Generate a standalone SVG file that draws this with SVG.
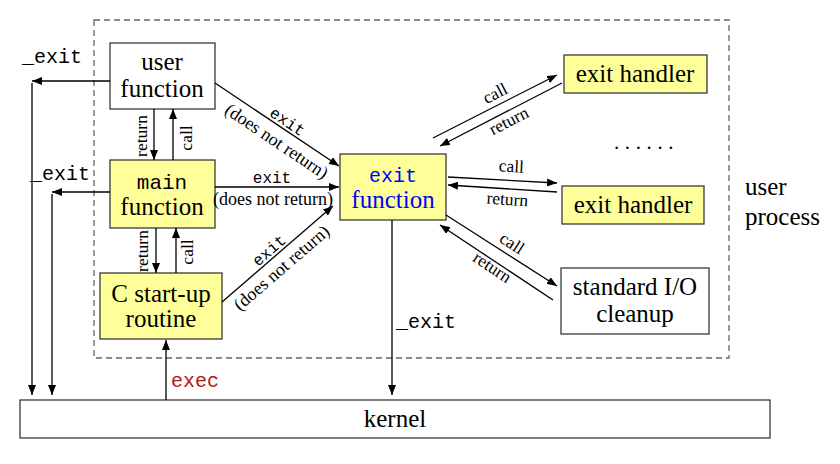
<svg xmlns="http://www.w3.org/2000/svg" width="840" height="464" viewBox="0 0 840 464">
<defs>
<marker id="ah" viewBox="0 0 10 8" refX="10" refY="4" markerWidth="10" markerHeight="8" markerUnits="userSpaceOnUse" orient="auto"><path d="M0,0 L10,4 L0,8 z" fill="#000"/></marker>
</defs>
<style>
.box{stroke:#3a3a3a;stroke-width:1.3}
.y{fill:#FFFF99}
.w{fill:#fff}
.big{font-family:"Liberation Serif","Times New Roman",serif;font-size:25px;fill:#000}
.mono{font-family:"Liberation Mono","Courier New",monospace;fill:#000}
.sm{font-family:"Liberation Serif","Times New Roman",serif;font-size:17.5px;fill:#000}
.dnr{font-size:18px}
.c{text-anchor:middle}
.ln{stroke:#000;stroke-width:1.3;fill:none;marker-end:url(#ah)}
</style>
<rect width="840" height="464" fill="#fff"/>
<rect id="user-process-frame" x="94" y="20" width="635" height="338" fill="none" stroke="#666" stroke-width="1.3" stroke-dasharray="6,4"/>
<text class="big" x="745" y="195">user</text>
<text class="big" x="745" y="225">process</text>

<g id="kernel"><rect class="box w" x="20" y="400" width="750" height="38"/><text class="big c" x="395" y="427">kernel</text></g>
<g id="user-function"><rect class="box w" x="110" y="43" width="105" height="66"/><text class="big c" x="162" y="70">user</text><text class="big c" x="162" y="97">function</text></g>
<g id="main-function"><rect class="box y" x="110" y="160" width="105" height="68"/><text class="mono c" font-size="21" x="162" y="189">main</text><text class="big c" x="162" y="215">function</text></g>
<g id="c-startup"><rect class="box y" x="100" y="273" width="122" height="66"/><text class="big c" x="161" y="302">C start-up</text><text class="big c" x="161" y="327">routine</text></g>
<g id="exit-function"><rect class="box y" x="340" y="154" width="106" height="66"/><text class="mono c" font-size="20" x="393" y="182" style="fill:#0000FF">exit</text><text class="big c" x="393" y="208" style="fill:#0000FF">function</text></g>
<g id="exit-handler-1"><rect class="box y" x="564" y="55" width="143" height="38"/><text class="big c" x="635" y="82">exit handler</text></g>
<g id="exit-handler-2"><rect class="box y" x="562" y="186" width="142" height="38"/><text class="big c" x="633" y="213">exit handler</text></g>
<g id="stdio-cleanup"><rect class="box w" x="561" y="268" width="148" height="66"/><text class="big c" x="635" y="295">standard I/O</text><text class="big c" x="635" y="322">cleanup</text></g>
<text class="sm" x="614" y="149" style="font-size:21px" letter-spacing="5.6">......</text>

<g id="connectors">
<path class="ln" d="M110,81 L32,81"/>
<path class="ln" d="M32,83 L32,395"/>
<path class="ln" d="M110,192 L52,192"/>
<path class="ln" d="M52,194 L52,395"/>
<path class="ln" d="M154,109 L154,160"/>
<path class="ln" d="M173,160 L173,109"/>
<path class="ln" d="M156,228 L156,273"/>
<path class="ln" d="M176,273 L176,228"/>
<path class="ln" d="M215,83 L339,166"/>
<path class="ln" d="M215,187 L339,187"/>
<path class="ln" d="M222,302 L333,206"/>
<path class="ln" d="M433,138 L557,75"/>
<path class="ln" d="M562,83 L440,146"/>
<path class="ln" d="M448,177 L557,183"/>
<path class="ln" d="M557,192 L448,185"/>
<path class="ln" d="M446,215 L557,286"/>
<path class="ln" d="M553,300 L440,225"/>
<path class="ln" d="M392,220 L392,395"/>
<path class="ln" d="M166,400 L166,340"/>

<text class="mono" font-size="20" x="22" y="63">_exit</text>
<text class="mono" font-size="20" x="30" y="180">_exit</text>
<text class="mono" font-size="20" x="396" y="328">_exit</text>
<text class="mono" font-size="20" x="171" y="387" style="fill:#B01818">exec</text>

<text class="sm c" transform="translate(147,136) rotate(-90)">return</text>
<text class="sm c" transform="translate(192,138) rotate(-90)">call</text>
<text class="sm c" transform="translate(148,251) rotate(-90)">return</text>
<text class="sm c" transform="translate(193,252) rotate(-90)">call</text>

<g transform="translate(277,124.5) rotate(33.8)"><text class="mono c" font-size="16" x="7" y="-3">exit</text><text class="sm dnr c" x="9" y="20">(does not return)</text></g>
<text class="mono c" font-size="16" x="272" y="183">exit</text>
<text class="sm dnr c" x="273" y="205">(does not return)</text>
<g transform="translate(277.5,254) rotate(-40.86)"><text class="mono c" font-size="16" x="-4" y="-3">exit</text><text class="sm dnr c" x="-6" y="19">(does not return)</text></g>

<g transform="translate(495,106.5) rotate(-26.9)"><text class="sm c" x="6" y="-6">call</text></g>
<g transform="translate(501,114.5) rotate(-27.3)"><text class="sm c" x="4" y="15">return</text></g>
<text class="sm c" x="511" y="172" transform="rotate(3 511 172)">call</text>
<text class="sm c" x="507" y="205" transform="rotate(4 507 205)">return</text>
<g transform="translate(501.5,250.5) rotate(32.6)"><text class="sm c" x="5" y="-6">call</text></g>
<g transform="translate(496.5,262.5) rotate(33.6)"><text class="sm c" x="-1" y="12">return</text></g>
</g>
</svg>
